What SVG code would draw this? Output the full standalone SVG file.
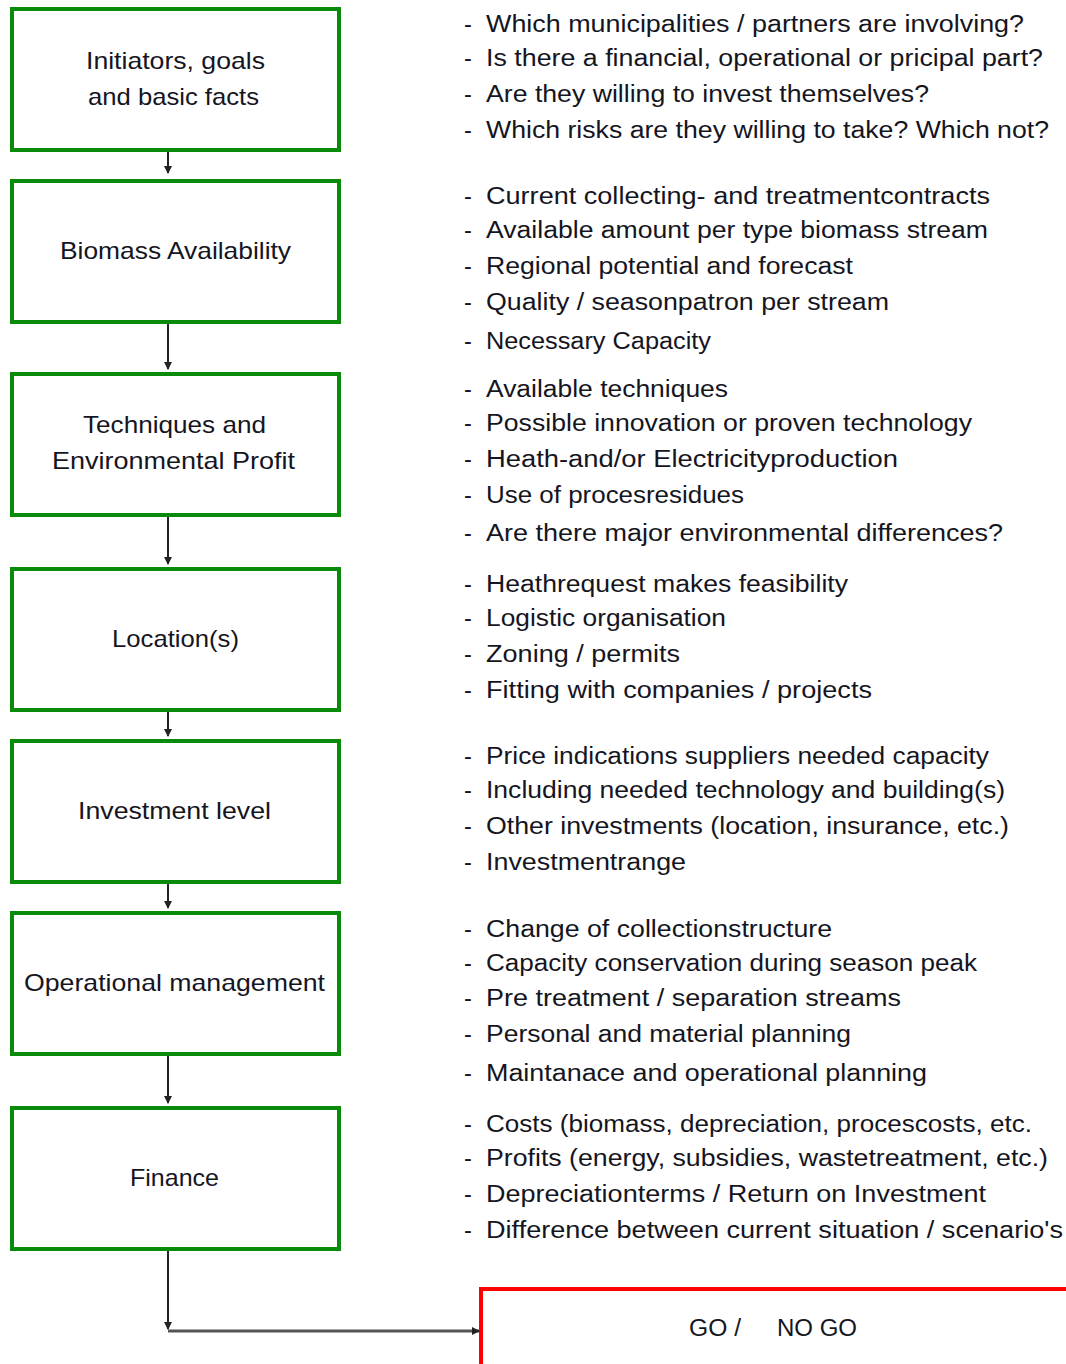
<svg xmlns="http://www.w3.org/2000/svg" width="1066" height="1364" viewBox="0 0 1066 1364">
<style>
.box{fill:#fff;stroke:#0a8a0a;stroke-width:4}
.lbl{font-family:"Liberation Sans",Arial,sans-serif;font-size:24px;fill:#151522;text-anchor:middle}
.b{font-family:"Liberation Sans",Arial,sans-serif;font-size:23.5px;fill:#151522}
.c{stroke:#222;stroke-width:2;fill:none}
</style>
<defs>
<marker id="ah" markerWidth="8" markerHeight="8" refX="7" refY="4" orient="auto" markerUnits="userSpaceOnUse">
<path d="M0,0 L8,4 L0,8 z" fill="#222"/>
</marker>
</defs>
<rect width="1066" height="1364" fill="#fff"/>
<g id="n1"><rect class="box" x="12" y="9" width="327" height="141"/><text class="lbl" x="175.5" y="69" textLength="179" lengthAdjust="spacingAndGlyphs">Initiators, goals</text><text class="lbl" x="173.5" y="105" textLength="171" lengthAdjust="spacingAndGlyphs">and basic facts</text></g>
<g id="n2"><rect class="box" x="12" y="181" width="327" height="141"/><text class="lbl" x="175.5" y="259" textLength="231" lengthAdjust="spacingAndGlyphs">Biomass Availability</text></g>
<g id="n3"><rect class="box" x="12" y="374" width="327" height="141"/><text class="lbl" x="174.5" y="433" textLength="183" lengthAdjust="spacingAndGlyphs">Techniques and</text><text class="lbl" x="173.5" y="469" textLength="243" lengthAdjust="spacingAndGlyphs">Environmental Profit</text></g>
<g id="n4"><rect class="box" x="12" y="569" width="327" height="141"/><text class="lbl" x="175.5" y="647" textLength="127" lengthAdjust="spacingAndGlyphs">Location(s)</text></g>
<g id="n5"><rect class="box" x="12" y="741" width="327" height="141"/><text class="lbl" x="174.5" y="819" textLength="193" lengthAdjust="spacingAndGlyphs">Investment level</text></g>
<g id="n6"><rect class="box" x="12" y="913" width="327" height="141"/><text class="lbl" x="174.5" y="991" textLength="301" lengthAdjust="spacingAndGlyphs">Operational management</text></g>
<g id="n7"><rect class="box" x="12" y="1108" width="327" height="141"/><text class="lbl" x="174.5" y="1186" textLength="89" lengthAdjust="spacingAndGlyphs">Finance</text></g>
<g id="n8"><rect x="481" y="1289" width="600" height="120" fill="#fff" stroke="#ff0000" stroke-width="4"/><text class="b" y="1336" font-size="24"><tspan x="689" textLength="52" lengthAdjust="spacingAndGlyphs">GO /</tspan><tspan x="777" textLength="80" lengthAdjust="spacingAndGlyphs">NO GO</tspan></text></g>
<g id="connectors">
<path class="c" d="M168,152 V173" marker-end="url(#ah)"/>
<path class="c" d="M168,324 V369" marker-end="url(#ah)"/>
<path class="c" d="M168,517 V564" marker-end="url(#ah)"/>
<path class="c" d="M168,712 V736" marker-end="url(#ah)"/>
<path class="c" d="M168,884 V908" marker-end="url(#ah)"/>
<path class="c" d="M168,1056 V1103" marker-end="url(#ah)"/>
<path class="c" d="M168,1251 V1329" marker-end="url(#ah)"/>
<path d="M168,1331 H479" stroke="#555" stroke-width="3" fill="none" marker-end="url(#ah)"/>
</g>
<g id="notes">
<g id="notes1">
<text class="b" x="464" y="32">-</text><text class="b" x="486" y="32" textLength="538" lengthAdjust="spacingAndGlyphs">Which municipalities / partners are involving?</text>
<text class="b" x="464" y="66">-</text><text class="b" x="486" y="66" textLength="557" lengthAdjust="spacingAndGlyphs">Is there a financial, operational or pricipal part?</text>
<text class="b" x="464" y="102">-</text><text class="b" x="486" y="102" textLength="443" lengthAdjust="spacingAndGlyphs">Are they willing to invest themselves?</text>
<text class="b" x="464" y="138">-</text><text class="b" x="486" y="138" textLength="563" lengthAdjust="spacingAndGlyphs">Which risks are they willing to take? Which not?</text>
</g>
<g id="notes2">
<text class="b" x="464" y="204">-</text><text class="b" x="486" y="204" textLength="504" lengthAdjust="spacingAndGlyphs">Current collecting- and treatmentcontracts</text>
<text class="b" x="464" y="238">-</text><text class="b" x="486" y="238" textLength="502" lengthAdjust="spacingAndGlyphs">Available amount per type biomass stream</text>
<text class="b" x="464" y="274">-</text><text class="b" x="486" y="274" textLength="367" lengthAdjust="spacingAndGlyphs">Regional potential and forecast</text>
<text class="b" x="464" y="310">-</text><text class="b" x="486" y="310" textLength="403" lengthAdjust="spacingAndGlyphs">Quality / seasonpatron per stream</text>
<text class="b" x="464" y="349">-</text><text class="b" x="486" y="349" textLength="225" lengthAdjust="spacingAndGlyphs">Necessary Capacity</text>
</g>
<g id="notes3">
<text class="b" x="464" y="397">-</text><text class="b" x="486" y="397" textLength="242" lengthAdjust="spacingAndGlyphs">Available techniques</text>
<text class="b" x="464" y="431">-</text><text class="b" x="486" y="431" textLength="486" lengthAdjust="spacingAndGlyphs">Possible innovation or proven technology</text>
<text class="b" x="464" y="467">-</text><text class="b" x="486" y="467" textLength="412" lengthAdjust="spacingAndGlyphs">Heath-and/or Electricityproduction</text>
<text class="b" x="464" y="503">-</text><text class="b" x="486" y="503" textLength="258" lengthAdjust="spacingAndGlyphs">Use of procesresidues</text>
<text class="b" x="464" y="541">-</text><text class="b" x="486" y="541" textLength="517" lengthAdjust="spacingAndGlyphs">Are there major environmental differences?</text>
</g>
<g id="notes4">
<text class="b" x="464" y="592">-</text><text class="b" x="486" y="592" textLength="362" lengthAdjust="spacingAndGlyphs">Heathrequest makes feasibility</text>
<text class="b" x="464" y="626">-</text><text class="b" x="486" y="626" textLength="240" lengthAdjust="spacingAndGlyphs">Logistic organisation</text>
<text class="b" x="464" y="662">-</text><text class="b" x="486" y="662" textLength="194" lengthAdjust="spacingAndGlyphs">Zoning / permits</text>
<text class="b" x="464" y="698">-</text><text class="b" x="486" y="698" textLength="386" lengthAdjust="spacingAndGlyphs">Fitting with companies / projects</text>
</g>
<g id="notes5">
<text class="b" x="464" y="764">-</text><text class="b" x="486" y="764" textLength="503" lengthAdjust="spacingAndGlyphs">Price indications suppliers needed capacity</text>
<text class="b" x="464" y="798">-</text><text class="b" x="486" y="798" textLength="519" lengthAdjust="spacingAndGlyphs">Including needed technology and building(s)</text>
<text class="b" x="464" y="834">-</text><text class="b" x="486" y="834" textLength="523" lengthAdjust="spacingAndGlyphs">Other investments (location, insurance, etc.)</text>
<text class="b" x="464" y="870">-</text><text class="b" x="486" y="870" textLength="200" lengthAdjust="spacingAndGlyphs">Investmentrange</text>
</g>
<g id="notes6">
<text class="b" x="464" y="937">-</text><text class="b" x="486" y="937" textLength="346" lengthAdjust="spacingAndGlyphs">Change of collectionstructure</text>
<text class="b" x="464" y="971">-</text><text class="b" x="486" y="971" textLength="491" lengthAdjust="spacingAndGlyphs">Capacity conservation during season peak</text>
<text class="b" x="464" y="1006">-</text><text class="b" x="486" y="1006" textLength="415" lengthAdjust="spacingAndGlyphs">Pre treatment / separation streams</text>
<text class="b" x="464" y="1042">-</text><text class="b" x="486" y="1042" textLength="365" lengthAdjust="spacingAndGlyphs">Personal and material planning</text>
<text class="b" x="464" y="1081">-</text><text class="b" x="486" y="1081" textLength="441" lengthAdjust="spacingAndGlyphs">Maintanace and operational planning</text>
</g>
<g id="notes7">
<text class="b" x="464" y="1132">-</text><text class="b" x="486" y="1132" textLength="546" lengthAdjust="spacingAndGlyphs">Costs (biomass, depreciation, procescosts, etc.</text>
<text class="b" x="464" y="1166">-</text><text class="b" x="486" y="1166" textLength="562" lengthAdjust="spacingAndGlyphs">Profits (energy, subsidies, wastetreatment, etc.)</text>
<text class="b" x="464" y="1202">-</text><text class="b" x="486" y="1202" textLength="500" lengthAdjust="spacingAndGlyphs">Depreciationterms / Return on Investment</text>
<text class="b" x="464" y="1238">-</text><text class="b" x="486" y="1238" textLength="577" lengthAdjust="spacingAndGlyphs">Difference between current situation / scenario's</text>
</g>
</g>
</svg>
